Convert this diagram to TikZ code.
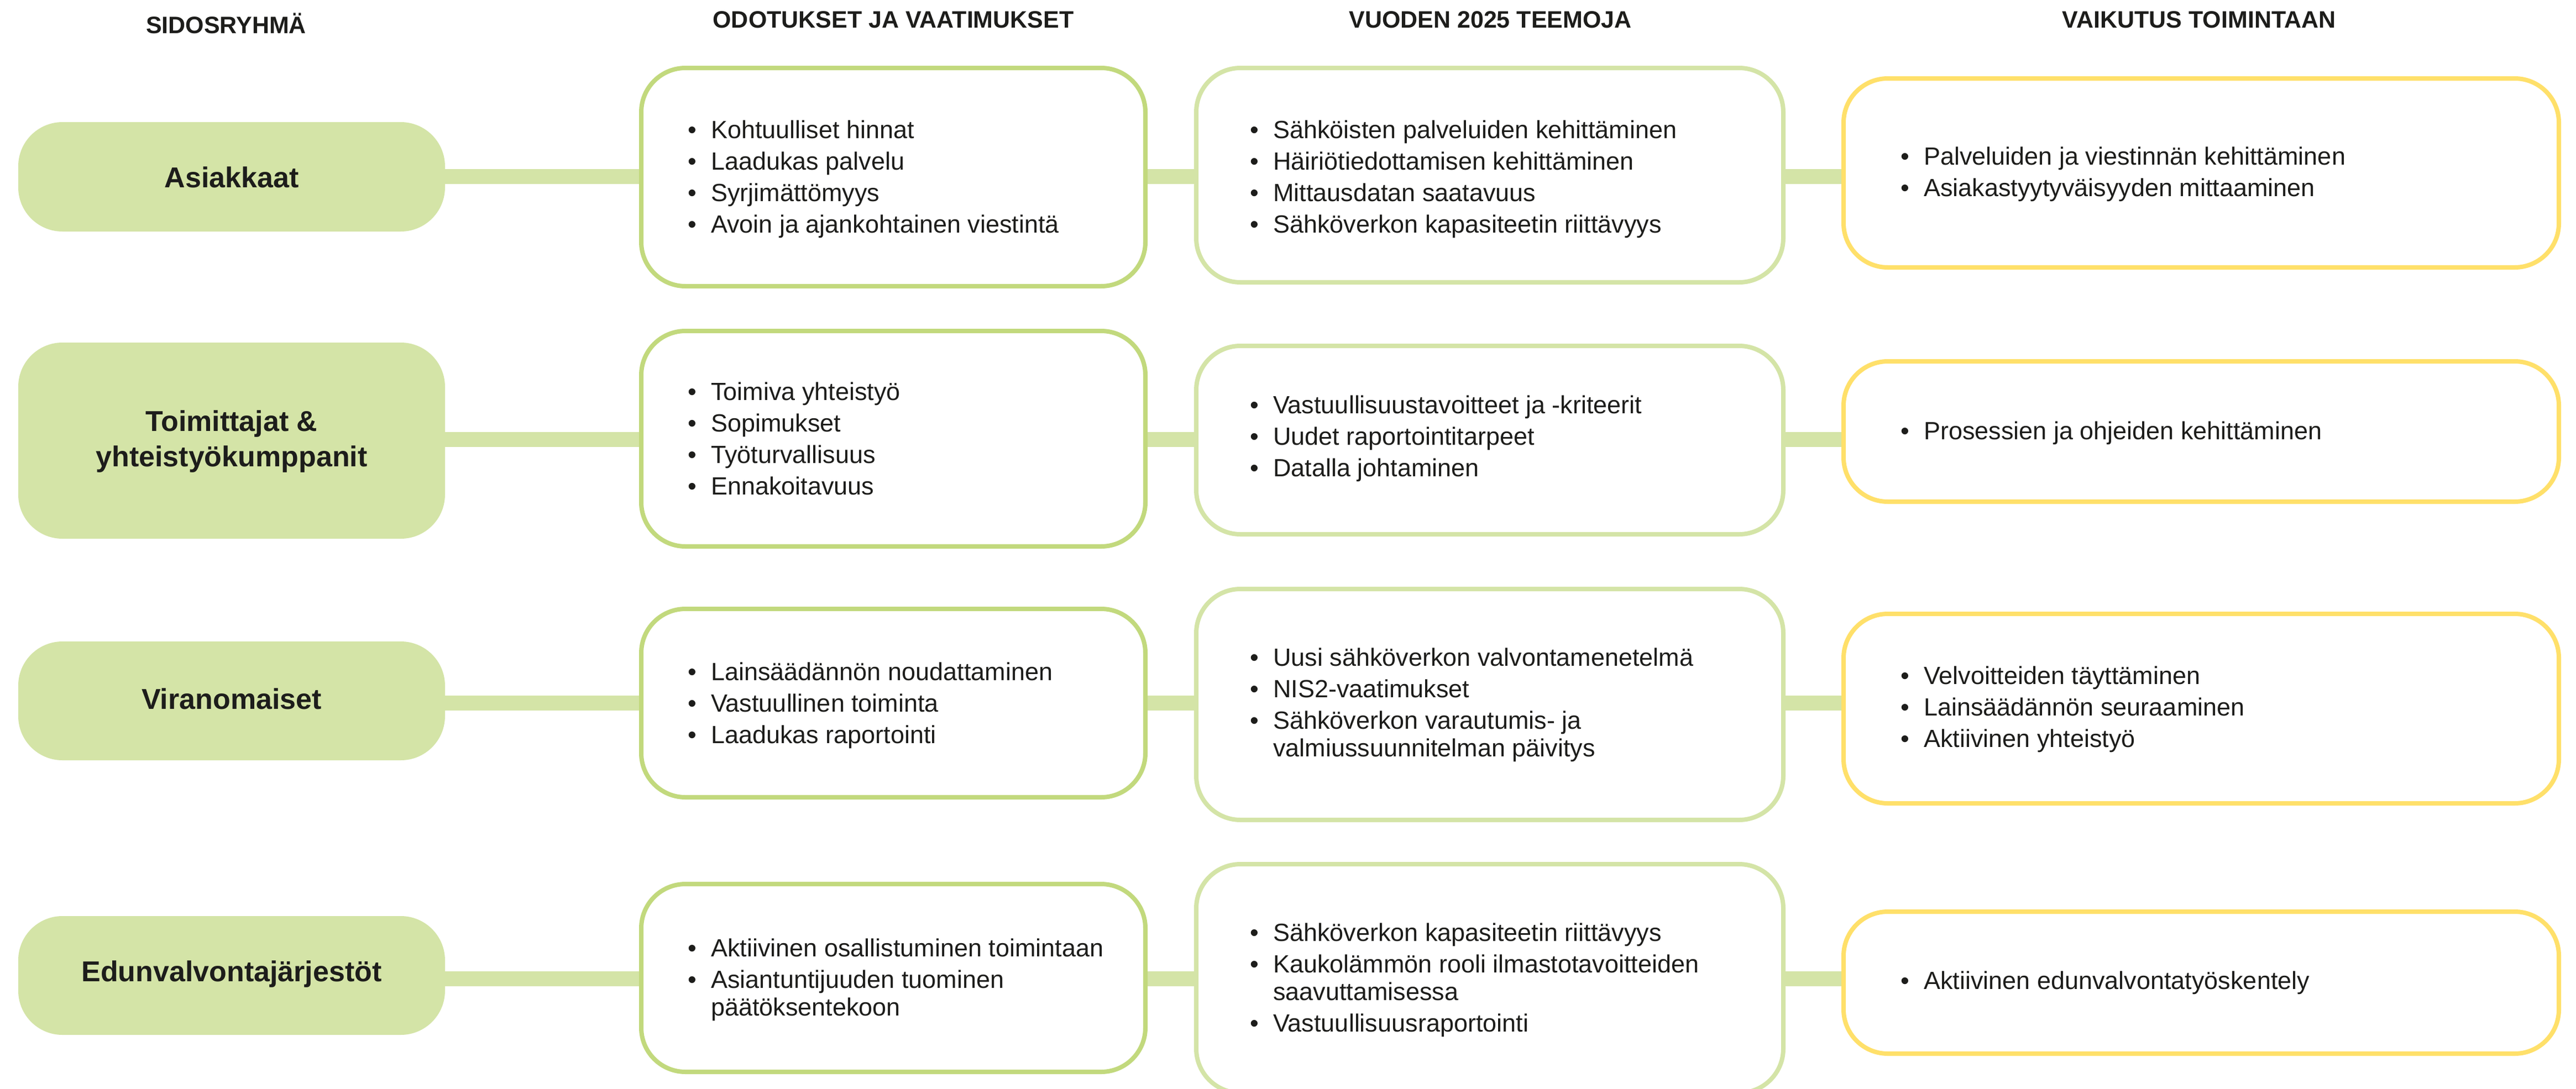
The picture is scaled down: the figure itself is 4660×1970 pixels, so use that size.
\documentclass[tikz,border=0pt]{standalone}
\usepackage{fontspec}
\setmainfont{Liberation Sans}
\usetikzlibrary{backgrounds}
\definecolor{lgreen}{HTML}{D4E4A7}
\definecolor{mgreen}{HTML}{C2D97D}
\definecolor{yel}{HTML}{FFE06A}
\definecolor{ink}{HTML}{1D1D1B}
\newcommand\myitem[1]{\hbox{\makebox[42pt][l]{\textbullet}#1}}
\newcommand\mycont[1]{\hbox{\hspace*{42pt}#1}}
\newcommand\mygap{\vskip7pt}
\newcommand\mylist[1]{\vtop{\baselineskip=50pt\lineskiplimit=-1000pt\lineskip=0pt #1}}
\newcommand\mytwo[2]{\vtop{\baselineskip=64pt\lineskiplimit=-1000pt\lineskip=0pt \hbox to 0pt{\hss #1\hss}\hbox to 0pt{\hss #2\hss}}}
\tikzset{
  grp/.style={draw=none, fill=lgreen, rounded corners=80pt, inner sep=0pt, minimum width=772pt},
  exbox/.style={draw=mgreen, line width=8pt, fill=white, rounded corners=80pt, inner sep=0pt, minimum width=912pt},
  thbox/.style={draw=lgreen, line width=8pt, fill=white, rounded corners=80pt, inner sep=0pt, minimum width=1062pt},
  imbox/.style={draw=yel, line width=8pt, fill=white, rounded corners=80pt, inner sep=0pt, minimum width=1294pt},
  conn/.style={draw=lgreen, line width=27pt},
  hdr/.style={anchor=base, inner sep=0pt, text=ink, font=\fontsize{43pt}{50pt}\selectfont\bfseries},
  lbl/.style={anchor=base, inner sep=0pt, text=ink, font=\fontsize{52pt}{64pt}\selectfont\bfseries},
  lst/.style={anchor=base west, inner sep=0pt, text=ink, font=\fontsize{45pt}{50pt}\selectfont}
}
\begin{document}
\begin{tikzpicture}[x=1pt, y=-1pt]
\clip (0,0) rectangle (4660,1970);
% row reference lines
\coordinate (r1) at (0,319);
\coordinate (r2) at (0,795);
\coordinate (r3) at (0,1272);
\coordinate (r4) at (0,1771);
% headers
\node[hdr] (h1) at (409,60) {SIDOSRYHMÄ};
\node[hdr] (h2) at (1616,50) {ODOTUKSET JA VAATIMUKSET};
\node[hdr] (h3) at (2696,50) {VUODEN 2025 TEEMOJA};
\node[hdr] (h4) at (3978,50) {VAIKUTUS TOIMINTAAN};
% column 1
\node[grp, minimum height=198pt] (a1) at (419,320) {};
\node[grp, minimum height=355pt] (a2) at (419,797.5) {};
\node[grp, minimum height=215pt] (a3) at (419,1268.5) {};
\node[grp, minimum height=215pt] (a4) at (419,1765.5) {};
\node[lbl] (a1t) at (419,339) {Asiakkaat};
\node[lbl] (a2t) at (419,780) {\mytwo{Toimittajat \&}{yhteistyökumppanit}};
\node[lbl] (a3t) at (419,1283) {Viranomaiset};
\node[lbl] (a4t) at (419,1776) {Edunvalvontajärjestöt};
% column 2
\node[exbox, minimum height=395pt] (b1) at (1616,320.5) {};
\node[exbox, minimum height=390pt] (b2) at (1616,794) {};
\node[exbox, minimum height=341pt] (b3) at (1616,1272.5) {};
\node[exbox, minimum height=340pt] (b4) at (1616,1770) {};
\node[lst] (b1t) at (1244,250) {\mylist{\myitem{Kohtuulliset hinnat}\mygap\myitem{Laadukas palvelu}\mygap\myitem{Syrjimättömyys}\mygap\myitem{Avoin ja ajankohtainen viestintä}}};
\node[lst] (b2t) at (1244,724) {\mylist{\myitem{Toimiva yhteistyö}\mygap\myitem{Sopimukset}\mygap\myitem{Työturvallisuus}\mygap\myitem{Ennakoitavuus}}};
\node[lst] (b3t) at (1244,1231) {\mylist{\myitem{Lainsäädännön noudattaminen}\mygap\myitem{Vastuullinen toiminta}\mygap\myitem{Laadukas raportointi}}};
\node[lst] (b4t) at (1244,1731) {\mylist{\myitem{Aktiivinen osallistuminen toimintaan}\mygap\myitem{Asiantuntijuuden tuominen}\mycont{päätöksentekoon}}};
% column 3
\node[thbox, minimum height=388pt] (c1) at (2695,317) {};
\node[thbox, minimum height=341pt] (c2) at (2695,796.5) {};
\node[thbox, minimum height=418pt] (c3) at (2695,1275) {};
\node[thbox, minimum height=414pt] (c4) at (2695,1771) {};
\node[lst] (c1t) at (2261,250) {\mylist{\myitem{Sähköisten palveluiden kehittäminen}\mygap\myitem{Häiriötiedottamisen kehittäminen}\mygap\myitem{Mittausdatan saatavuus}\mygap\myitem{Sähköverkon kapasiteetin riittävyys}}};
\node[lst] (c2t) at (2261,748) {\mylist{\myitem{Vastuullisuustavoitteet ja -kriteerit}\mygap\myitem{Uudet raportointitarpeet}\mygap\myitem{Datalla johtaminen}}};
\node[lst] (c3t) at (2261,1205) {\mylist{\myitem{Uusi sähköverkon valvontamenetelmä}\mygap\myitem{NIS2-vaatimukset}\mygap\myitem{Sähköverkon varautumis- ja}\mycont{valmiussuunnitelman päivitys}}};
\node[lst] (c4t) at (2261,1703) {\mylist{\myitem{Sähköverkon kapasiteetin riittävyys}\mygap\myitem{Kaukolämmön rooli ilmastotavoitteiden}\mycont{saavuttamisessa}\mygap\myitem{Vastuullisuusraportointi}}};
% column 4
\node[imbox, minimum height=342pt] (d1) at (3982,313) {};
\node[imbox, minimum height=254pt] (d2) at (3982,781) {};
\node[imbox, minimum height=343pt] (d3) at (3982,1282.5) {};
\node[imbox, minimum height=257pt] (d4) at (3982,1778.5) {};
\node[lst] (d1t) at (3438,298) {\mylist{\myitem{Palveluiden ja viestinnän kehittäminen}\mygap\myitem{Asiakastyytyväisyyden mittaaminen}}};
\node[lst] (d2t) at (3438,795) {\mylist{\myitem{Prosessien ja ohjeiden kehittäminen}}};
\node[lst] (d3t) at (3438,1238) {\mylist{\myitem{Velvoitteiden täyttäminen}\mygap\myitem{Lainsäädännön seuraaminen}\mygap\myitem{Aktiivinen yhteistyö}}};
\node[lst] (d4t) at (3438,1790) {\mylist{\myitem{Aktiivinen edunvalvontatyöskentely}}};
% connectors behind the boxes
\begin{scope}[on background layer]
\fill[white] (0,0) rectangle (4660,1970);
\draw[conn] (a1.east |- r1) -- (b1.west |- r1);
\draw[conn] (b1.east |- r1) -- (c1.west |- r1);
\draw[conn] (c1.east |- r1) -- (d1.west |- r1);
\draw[conn] (a2.east |- r2) -- (b2.west |- r2);
\draw[conn] (b2.east |- r2) -- (c2.west |- r2);
\draw[conn] (c2.east |- r2) -- (d2.west |- r2);
\draw[conn] (a3.east |- r3) -- (b3.west |- r3);
\draw[conn] (b3.east |- r3) -- (c3.west |- r3);
\draw[conn] (c3.east |- r3) -- (d3.west |- r3);
\draw[conn] (a4.east |- r4) -- (b4.west |- r4);
\draw[conn] (b4.east |- r4) -- (c4.west |- r4);
\draw[conn] (c4.east |- r4) -- (d4.west |- r4);
\end{scope}
\end{tikzpicture}
\end{document}
